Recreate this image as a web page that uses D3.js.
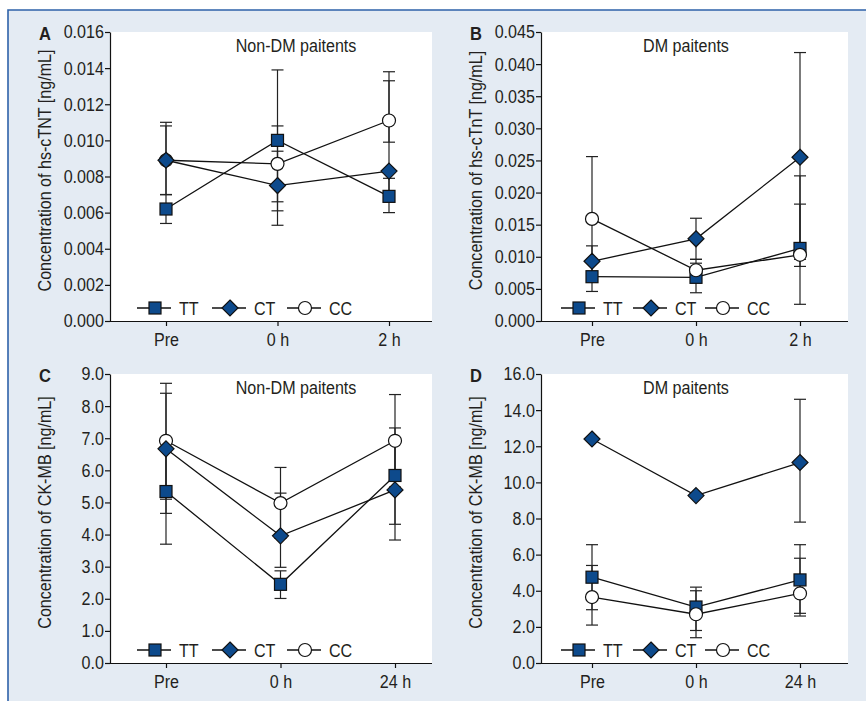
<!DOCTYPE html>
<html>
<head>
<meta charset="utf-8">
<script src="https://cdn.jsdelivr.net/npm/d3@7"></script>
<style>
  html, body { margin: 0; padding: 0; background: #fff; }
  svg { display: block; }
  text { font-family: "Liberation Sans", Arial, sans-serif; fill: #231f20; }
</style>
</head>
<body>
<svg id="chart" width="866" height="701"></svg>
<script>
// categories
const timesShort = ['Pre', '0 h', '2 h'];
const timesLong = ['Pre', '0 h', '24 h'];
const genotypes = ['TT', 'CT', 'CC'];

// A: hs-cTnT, non-DM
const aTT = [0.0062, 0.0100, 0.0069];
const aCT = [0.0089, 0.0075, 0.0083];
const aCC = [0.0089, 0.0087, 0.0111];
const aTTBars = [[0.0054, 0.0070], [0.0061, 0.0139], [0.0060, 0.0079]];
const aCTBars = [[0.0070, 0.0110], [0.0053, 0.0094], [0.0068, 0.0133]];
const aCCBars = [[0.0070, 0.0108], [0.0066, 0.0108], [0.0099, 0.0138]];
const aTicks = [0, 0.002, 0.004, 0.006, 0.008, 0.010, 0.012, 0.014, 0.016];

// B: hs-cTnT, DM
const bTT = [0.0069, 0.0068, 0.0113];
const bCT = [0.0093, 0.0128, 0.0255];
const bCC = [0.0159, 0.0079, 0.0103];
const bTTBars = [[0.0046, 0.0075], [0.0044, 0.0090], [0.0085, 0.0182]];
const bCTBars = [[0.0070, 0.0117], [0.0096, 0.0160], [0.0096, 0.0418]];
const bCCBars = [[0.0062, 0.0256], [0.0062, 0.0096], [0.0026, 0.0226]];
const bTicks = [0, 0.005, 0.010, 0.015, 0.020, 0.025, 0.030, 0.035, 0.040, 0.045];

// C: CK-MB, non-DM
const cTT = [5.34, 2.45, 5.84];
const cCT = [6.67, 3.96, 5.39];
const cCC = [6.92, 4.98, 6.92];
const cTTBars = [[3.70, 6.98], [2.01, 2.87], [4.32, 7.32]];
const cCTBars = [[4.66, 8.40], [2.98, 5.29], [3.83, 6.95]];
const cCCBars = [[5.10, 8.71], [3.88, 6.09], [5.48, 8.36]];
const cTicks = [0, 1, 2, 3, 4, 5, 6, 7, 8, 9];

// D: CK-MB, DM
const dTT = [4.75, 3.10, 4.60];
const dCT = [12.40, 9.27, 11.10];
const dCC = [3.65, 2.70, 3.85];
const dTTBars = [[2.95, 6.55], [1.80, 4.20], [2.60, 6.55]];
const dCTBars = [null, null, [7.80, 14.60]];
const dCCBars = [[2.10, 5.40], [1.40, 4.00], [2.75, 5.80]];
const dTicks = [0, 2, 4, 6, 8, 10, 12, 14, 16];

const navy = '#0d4a8c';
const squeeze = 'scale(0.87,1)'; // narrow look, no condensed font installed
const panels = [
  {letter: 'A', title: 'Non-DM paitents', yTitle: 'Concentration of hs-cTNT [ng/mL]', cats: timesShort,
   series: [aTT, aCT, aCC], bars: [aTTBars, aCTBars, aCCBars], ticks: aTicks, fmt: '.3f',
   left: 110, right: 432, top: 32, bottom: 321, xr: [166, 389], titleX: 296, legX: 27, legStep: 75},
  {letter: 'B', title: 'DM paitents', yTitle: 'Concentration of hs-cTnT [ng/mL]', cats: timesShort,
   series: [bTT, bCT, bCC], bars: [bTTBars, bCTBars, bCCBars], ticks: bTicks, fmt: '.3f',
   left: 541, right: 848, top: 32, bottom: 321, xr: [592, 800], titleX: 686, legX: 20, legStep: 72},
  {letter: 'C', title: 'Non-DM paitents', yTitle: 'Concentration of CK-MB [ng/mL]', cats: timesLong,
   series: [cTT, cCT, cCC], bars: [cTTBars, cCTBars, cCCBars], ticks: cTicks, fmt: '.1f',
   left: 110, right: 432, top: 374, bottom: 663, xr: [166, 395], titleX: 296, legX: 27, legStep: 75},
  {letter: 'D', title: 'DM paitents', yTitle: 'Concentration of CK-MB [ng/mL]', cats: timesLong,
   series: [dTT, dCT, dCC], bars: [dTTBars, dCTBars, dCCBars], ticks: dTicks, fmt: '.1f',
   left: 541, right: 848, top: 374, bottom: 663, xr: [592, 800], titleX: 686, legX: 20, legStep: 72}
];

const svg = d3.select('#chart');

// background panel with blue frame on top/left
svg.append('rect').attr('x', 8).attr('y', 10).attr('width', 858).attr('height', 691).attr('fill', '#e4ebf3');
svg.append('path').attr('d', 'M8,701V10H866').attr('fill', 'none').attr('stroke', '#2e62a9').attr('stroke-width', 1.6);

function label(g, x, y, txt, size, anchor, rotate) {
  return g.append('text')
    .attr('transform', `translate(${x},${y})${rotate ? ' rotate(-90)' : ''} ${squeeze}`)
    .attr('text-anchor', anchor || 'middle').style('font-size', size + 'px').text(txt);
}

function marker(g, type, x, y) {
  if (type === 'TT') {
    g.append('rect').attr('x', x - 6).attr('y', y - 6).attr('width', 12).attr('height', 12)
      .attr('fill', navy).attr('stroke', '#111').attr('stroke-width', 1.2);
  } else if (type === 'CT') {
    g.append('path').attr('d', `M${x},${y - 8}L${x + 8},${y}L${x},${y + 8}L${x - 8},${y}Z`)
      .attr('fill', navy).attr('stroke', '#111').attr('stroke-width', 1.2);
  } else {
    g.append('circle').attr('cx', x).attr('cy', y).attr('r', 6.5)
      .attr('fill', '#fff').attr('stroke', '#111').attr('stroke-width', 1.2);
  }
}

panels.forEach(p => {
  const g = svg.append('g');
  g.append('rect').attr('x', p.left).attr('y', p.top).attr('width', p.right - p.left)
    .attr('height', p.bottom - p.top).attr('fill', '#fff');

  const x = d3.scalePoint().domain(p.cats).range(p.xr);
  const y = d3.scaleLinear().domain([0, p.ticks[p.ticks.length - 1]]).range([p.bottom, p.top]);

  const yAxis = g.append('g').attr('transform', `translate(${p.left},0)`)
    .call(d3.axisLeft(y).tickValues(p.ticks).tickFormat(d3.format(p.fmt)).tickSize(5).tickSizeOuter(0).tickPadding(2));
  const xAxis = g.append('g').attr('transform', `translate(0,${p.bottom})`)
    .call(d3.axisBottom(x).tickSize(5).tickSizeOuter(0).tickPadding(4));
  xAxis.select('.domain').attr('d', `M${p.left},0.5H${p.right}`);
  [yAxis, xAxis].forEach(a => {
    a.selectAll('path, line').attr('stroke', '#111').attr('stroke-width', 1.2);
    a.selectAll('text').style('font-size', '18.5px').attr('fill', '#231f20').attr('transform', squeeze);
  });
  xAxis.selectAll('text').attr('dy', '0.85em');

  label(g, p.left - 65, p.top + 8, p.letter, 19).style('font-weight', 'bold');
  label(g, p.titleX, p.top + 20, p.title, 18.5);
  label(g, p.left - 59, (p.top + p.bottom) / 2 - 6, p.yTitle, 18.5, 'middle', true);

  const order = [0, 2, 1];
  // error bars
  order.forEach(si => {
    p.bars[si].forEach((b, i) => {
      if (!b) return;
      const cx = x(p.cats[i]);
      g.append('line').attr('x1', cx).attr('x2', cx).attr('y1', y(b[0])).attr('y2', y(b[1]))
        .attr('stroke', '#222').attr('stroke-width', 1.2);
      b.forEach(v => g.append('line').attr('x1', cx - 6).attr('x2', cx + 6).attr('y1', y(v)).attr('y2', y(v))
        .attr('stroke', '#222').attr('stroke-width', 1.2));
    });
  });
  // lines
  const line = d3.line().x((d, i) => x(p.cats[i])).y(d => y(d));
  order.forEach(si => {
    g.append('path').attr('d', line(p.series[si])).attr('fill', 'none')
      .attr('stroke', '#111').attr('stroke-width', 1.3);
  });
  // markers
  order.forEach(si => {
    p.series[si].forEach((v, i) => marker(g, genotypes[si], x(p.cats[i]), y(v)));
  });

  // legend
  const ly = p.bottom - 13;
  genotypes.forEach((gt, i) => {
    const lx = p.left + p.legX + i * p.legStep;
    g.append('line').attr('x1', lx).attr('x2', lx + 34).attr('y1', ly).attr('y2', ly)
      .attr('stroke', '#111').attr('stroke-width', 1.3);
    marker(g, gt, lx + 18, ly);
    label(g, lx + 42, ly + 7, gt, 18.5, 'start');
  });
});
</script>
</body>
</html>
